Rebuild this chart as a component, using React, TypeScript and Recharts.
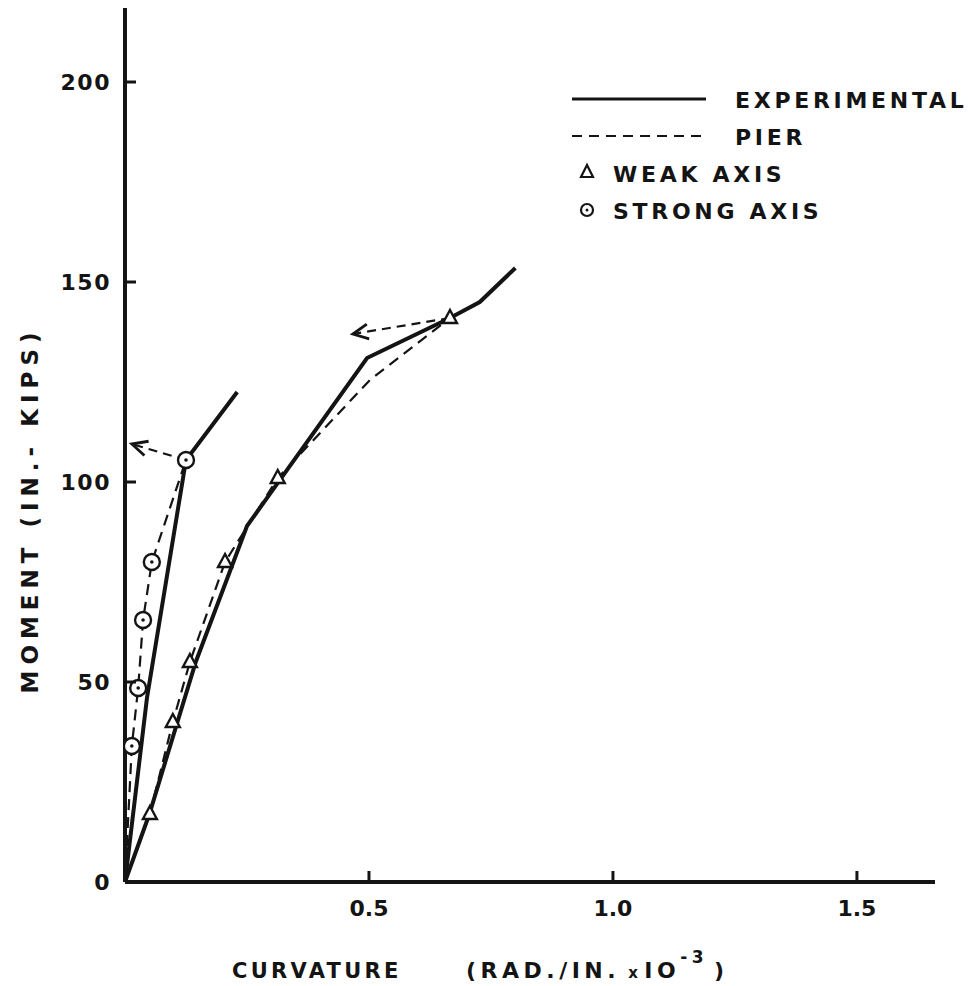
import React from "react";
import { LineChart, Line, XAxis, YAxis } from "recharts";

// curvature (rad./in. x 10^-3) vs moment (in.-kips)
const strongExperimental = [
  { x: 0, y: 0 },
  { x: 0.045, y: 46 },
  { x: 0.125, y: 105.5 },
  { x: 0.23, y: 122.5 },
];
const strongPier = [
  { x: 0, y: 0 },
  { x: 0.014, y: 34 },
  { x: 0.027, y: 48.5 },
  { x: 0.037, y: 65.5 },
  { x: 0.055, y: 80 },
  { x: 0.125, y: 105.5 },
];
const strongArrow = [
  { x: 0.125, y: 105.5 },
  { x: 0.014, y: 109.5 },
];
const weakExperimental = [
  { x: 0, y: 0 },
  { x: 0.05, y: 17 },
  { x: 0.145, y: 55 },
  { x: 0.25, y: 89 },
  { x: 0.496, y: 131 },
  { x: 0.666, y: 141 },
  { x: 0.727, y: 145 },
  { x: 0.8, y: 153.5 },
];
const weakPier = [
  { x: 0, y: 0 },
  { x: 0.051, y: 17 },
  { x: 0.098, y: 40 },
  { x: 0.133, y: 55 },
  { x: 0.205, y: 80 },
  { x: 0.313, y: 101 },
  { x: 0.502, y: 125.5 },
  { x: 0.666, y: 141 },
];
const weakMarks = [
  { x: 0.051, y: 17 },
  { x: 0.098, y: 40 },
  { x: 0.133, y: 55 },
  { x: 0.205, y: 80 },
  { x: 0.313, y: 101 },
  { x: 0.666, y: 141 },
];
const strongMarks = [
  { x: 0.014, y: 34 },
  { x: 0.027, y: 48.5 },
  { x: 0.037, y: 65.5 },
  { x: 0.055, y: 80 },
  { x: 0.125, y: 105.5 },
];
const weakArrow = [
  { x: 0.666, y: 141 },
  { x: 0.467, y: 137 },
];

const xTicks = [0.5, 1.0, 1.5];
const yTicks = [0, 50, 100, 150, 200];
const legendItems = ["EXPERIMENTAL", "PIER", "WEAK AXIS", "STRONG AXIS"];

const INK = "#141414";
const FONT = "'DejaVu Sans', sans-serif";

const Triangle = (props: any) => {
  const { cx, cy, index } = props;
  if (cx == null || cy == null) return <g key={`t${index}`} />;
  return (
    <polygon
      key={`t${index}`}
      points={`${cx},${cy - 8} ${cx - 7},${cy + 5} ${cx + 7},${cy + 5}`}
      fill="#fff"
      stroke={INK}
      strokeWidth={2.4}
    />
  );
};

const Ring = (props: any) => {
  const { cx, cy, index } = props;
  if (cx == null || cy == null) return <g key={`c${index}`} />;
  return (
    <g key={`c${index}`}>
      <circle cx={cx} cy={cy} r={8} fill="#fff" stroke={INK} strokeWidth={2.4} />
      <circle cx={cx} cy={cy} r={1.8} fill={INK} />
    </g>
  );
};

// open arrowhead on the last point, pointing away from the first
const makeArrow = (series: { x: number; y: number }[]) => (props: any) => {
  const { cx, cy, index, points } = props;
  if (index !== series.length - 1 || cx == null) return <g key={`a${index}`} />;
  let dx: number;
  let dy: number;
  if (points && points.length > 1) {
    dx = points[index].x - points[index - 1].x;
    dy = points[index].y - points[index - 1].y;
  } else {
    dx = (series[index].x - series[index - 1].x) * 488;
    dy = -(series[index].y - series[index - 1].y) * 4;
  }
  const a = Math.atan2(dy, dx);
  const len = 17;
  const spread = 0.45;
  const p1 = [cx - len * Math.cos(a - spread), cy - len * Math.sin(a - spread)];
  const p2 = [cx - len * Math.cos(a + spread), cy - len * Math.sin(a + spread)];
  return (
    <path
      key={`a${index}`}
      d={`M${p1[0]},${p1[1]} L${cx},${cy} L${p2[0]},${p2[1]}`}
      fill="none"
      stroke={INK}
      strokeWidth={2.8}
    />
  );
};

const YTick = (props: any) => {
  const { x, y, payload } = props;
  return (
    <g>
      <line x1={x} x2={x + 11} y1={y} y2={y} stroke={INK} strokeWidth={3} />
      <text
        x={x - 14}
        y={y}
        dy={8}
        textAnchor="end"
        fontSize={22}
        fontWeight="bold"
        fontFamily={FONT}
        letterSpacing={1.5}
        fill={INK}
      >
        {payload.value}
      </text>
    </g>
  );
};

const XTick = (props: any) => {
  const { x, y, payload } = props;
  return (
    <g>
      <line x1={x} x2={x} y1={y} y2={y - 11} stroke={INK} strokeWidth={3} />
      <text
        x={x}
        y={y + 34}
        textAnchor="middle"
        fontSize={22}
        fontWeight="bold"
        fontFamily={FONT}
        fill={INK}
      >
        {payload.value.toFixed(1)}
      </text>
    </g>
  );
};

const textStyle = {
  fontFamily: FONT,
  fontWeight: "bold" as const,
  fill: INK,
};

export default function App() {
  return (
    <div style={{ position: "absolute", left: 0, top: 0, width: 973, height: 986, background: "#fff" }}>
      <LineChart
        width={973}
        height={986}
        margin={{ top: 8, right: 38, left: 65, bottom: 74 }}
      >
        <XAxis
          dataKey="x"
          type="number"
          domain={[0, 1.66]}
          ticks={xTicks}
          tick={<XTick />}
          tickSize={0}
          tickMargin={0}
          height={30}
          axisLine={{ stroke: INK, strokeWidth: 4 }}
          allowDataOverflow
        />
        <YAxis
          dataKey="y"
          type="number"
          domain={[0, 218.5]}
          ticks={yTicks}
          tick={<YTick />}
          tickSize={0}
          tickMargin={0}
          width={60}
          axisLine={{ stroke: INK, strokeWidth: 4 }}
          allowDataOverflow
        />
        <Line
          data={strongPier}
          dataKey="y"
          stroke={INK}
          strokeWidth={2.2}
          strokeDasharray="11 7"
          dot={false}
          isAnimationActive={false}
        />
        <Line
          data={weakPier}
          dataKey="y"
          stroke={INK}
          strokeWidth={2.2}
          strokeDasharray="11 7"
          dot={false}
          isAnimationActive={false}
        />
        <Line
          data={strongExperimental}
          dataKey="y"
          stroke={INK}
          strokeWidth={4}
          dot={false}
          isAnimationActive={false}
        />
        <Line
          data={weakExperimental}
          dataKey="y"
          stroke={INK}
          strokeWidth={4}
          dot={false}
          isAnimationActive={false}
        />
        <Line
          data={strongArrow}
          dataKey="y"
          stroke={INK}
          strokeWidth={2.2}
          strokeDasharray="9 6"
          dot={makeArrow(strongArrow)}
          isAnimationActive={false}
        />
        <Line
          data={weakArrow}
          dataKey="y"
          stroke={INK}
          strokeWidth={2.2}
          strokeDasharray="9 6"
          dot={makeArrow(weakArrow)}
          isAnimationActive={false}
        />
        <Line
          data={weakMarks}
          dataKey="y"
          stroke="none"
          dot={<Triangle />}
          isAnimationActive={false}
        />
        <Line
          data={strongMarks}
          dataKey="y"
          stroke="none"
          dot={<Ring />}
          isAnimationActive={false}
        />
      </LineChart>

      <svg
        width={973}
        height={986}
        style={{ position: "absolute", left: 0, top: 0, pointerEvents: "none" }}
      >
        {/* legend */}
        <line x1={572} x2={706} y1={99} y2={99} stroke={INK} strokeWidth={3} />
        <line x1={572} x2={706} y1={136} y2={136} stroke={INK} strokeWidth={2} strokeDasharray="10 7" />
        <polygon points="587,165 581,177 593,177" fill="#fff" stroke={INK} strokeWidth={2.2} />
        <circle cx={587} cy={210} r={6} fill="#fff" stroke={INK} strokeWidth={2.2} />
        <circle cx={587} cy={210} r={1.5} fill={INK} />
        {legendItems.map((label, i) => (
          <text
            key={label}
            x={i < 2 ? 735 : 613}
            y={108 + i * 37}
            fontSize={22}
            letterSpacing={3.7}
            {...textStyle}
          >
            {label}
          </text>
        ))}

        {/* axis titles */}
        <text x={232} y={978} fontSize={21} letterSpacing={3.3} {...textStyle}>
          CURVATURE
        </text>
        <text x={466} y={978} fontSize={22} letterSpacing={4.5} {...textStyle}>
          (RAD./IN.
          <tspan fontSize={15} dx={8}>x</tspan>
          <tspan dx={2}>IO</tspan>
          <tspan fontSize={17} dy={-15}>-3</tspan>
          <tspan dy={15} dx={6}>)</tspan>
        </text>
        <text
          transform="translate(38,510) rotate(-90)"
          textAnchor="middle"
          fontSize={23}
          letterSpacing={6}
          {...textStyle}
        >
          MOMENT (IN.- KIPS)
        </text>
      </svg>
    </div>
  );
}
